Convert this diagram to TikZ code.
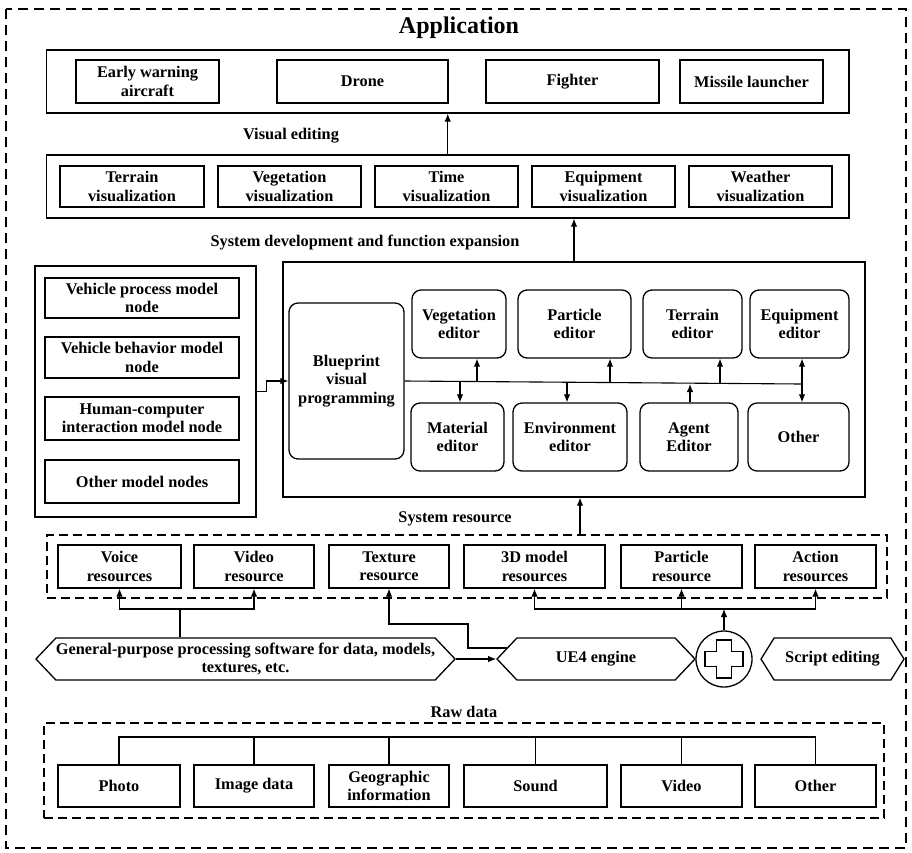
\documentclass[tikz,border=0pt]{standalone}
\usepackage{fontspec}
\setmainfont{Liberation Serif}
\usetikzlibrary{arrows.meta}
\usetikzlibrary{shapes.symbols}
\newcommand{\dgmfont}{\bfseries\fontsize{16.3}{18.3}\selectfont}
\newcommand{\titlefont}{\bfseries\fontsize{24}{26}\selectfont}
\tikzset{>={Latex[length=8pt,width=6.5pt]}}
\tikzset{sz/.style 2 args={minimum width=#1pt, minimum height=#2pt}}
\tikzset{box/.style={draw, line width=1.3pt, inner sep=0pt, align=center, font=\dgmfont}}
\tikzset{rbox/.style={box, rounded corners=9pt}}
\tikzset{dbox/.style={draw, line width=1.1pt, dash pattern=on 9pt off 5pt, inner sep=0pt}}
\tikzset{hexa/.style={box, signal, signal to=east and west}}
\tikzset{lbl/.style={inner sep=0pt, font=\dgmfont}}

\begin{document}
\begin{tikzpicture}[x=1pt,y=-1pt,line width=1.1pt]
  \useasboundingbox (0,0) rectangle (912,852);
  \draw [dash pattern=on 10pt off 6pt] (6,9) rectangle (906,848);

  % application layer
  \node [lbl, font=\titlefont] (apptitle) at (459,28) {Application};
  \node [box, sz={802.5}{63}] (app) at (447.75,81.5) {};
  \node [box, sz={143}{43}] (ew) at (147.5,81.5) {Early warning\\aircraft};
  \node [box, sz={171}{43}] (drone) at (362.5,81.5) {Drone};
  \node [box, sz={173}{43}] (fighter) at (572.5,81.5) {Fighter};
  \node [box, sz={143}{43}] (missile) at (751.5,81.5) {Missile launcher};

  % visualization layer
  \node [lbl] (vislbl) at (291,136) {Visual editing};
  \node [box, sz={802.5}{63}] (vis) at (447.75,186.5) {};
  \node [box, sz={144}{41}] (terrainvis) at (132,186.5) {Terrain\\visualization};
  \node [box, sz={143}{41}] (vegvis) at (289.5,186.5) {Vegetation\\visualization};
  \node [box, sz={143}{41}] (timevis) at (446.5,186.5) {Time\\visualization};
  \node [box, sz={143}{41}] (equipvis) at (603.5,186.5) {Equipment\\visualization};
  \node [box, sz={143}{41}] (weathervis) at (760.5,186.5) {Weather\\visualization};
  \draw [->] (vis.north) -- (app.south);

  % development
  \node [lbl] (devlbl) at (365,243) {System development and function expansion};
  \node [box, sz={582}{235}] (dev) at (574,379.5) {};
  \draw [->] (dev.north) -- (dev.north |- vis.south);

  \node [box, sz={221}{251}] (left) at (145.5,391.5) {};
  \node [box, sz={194}{40}] (vpm) at (142,298) {Vehicle process model\\node};
  \node [box, sz={194}{41}] (vbm) at (142,357.5) {Vehicle behavior model\\node};
  \node [box, sz={194}{43}] (hci) at (142,418.5) {Human-computer\\interaction model node};
  \node [box, sz={194}{43}] (omn) at (142,481.5) {Other model nodes};

  \node [rbox, sz={115}{156}] (bp) at (346.5,381) {Blueprint\\visual\\programming};
  \draw [->] (left.east) -- ++(10,0) |- (bp.west);

  \node [rbox, sz={94}{68}] (vegedit) at (459,324) {Vegetation\\editor};
  \node [rbox, sz={113}{68}] (partedit) at (574.5,324) {Particle\\editor};
  \node [rbox, sz={99}{68}] (terredit) at (692.5,324) {Terrain\\editor};
  \node [rbox, sz={99}{68}] (equipedit) at (799.5,324) {Equipment\\editor};
  \node [rbox, sz={93}{68}] (matedit) at (457.5,437) {Material\\editor};
  \node [rbox, sz={114}{68}] (envedit) at (570,437) {Environment\\editor};
  \node [rbox, sz={98}{68}] (agentedit) at (689,437) {Agent\\Editor};
  \node [rbox, sz={101}{68}] (otheredit) at (798.5,437) {Other};

  \coordinate (busend) at (802,384);
  \draw (bp.east) -- (busend);
  \coordinate (b1) at (477,382);
  \coordinate (b2) at (460,382);
  \coordinate (b3) at (610,383);
  \coordinate (b4) at (567,383);
  \coordinate (b5) at (720,384);
  \coordinate (b6) at (690,384);
  \draw [->] (b1) -- (b1 |- vegedit.south);
  \draw [->] (b2) -- (b2 |- matedit.north);
  \draw [->] (b3) -- (b3 |- partedit.south);
  \draw [->] (b4) -- (b4 |- envedit.north);
  \draw [->] (b5) -- (b5 |- terredit.south);
  \draw [->] (b6 |- agentedit.north) -- (b6);
  \draw [->] (busend) -- (busend |- equipedit.south);
  \draw [->] (busend) -- (busend |- otheredit.north);

  % resources
  \node [lbl] (reslbl) at (455,519) {System resource};
  \node [dbox, sz={840}{63}] (resbox) at (467,566.5) {};
  \coordinate (r2d) at (580,535);
  \draw [->] (r2d) -- (r2d |- dev.south);

  \node [box, sz={123}{43}] (voice) at (119.5,566.5) {Voice\\resources};
  \node [box, sz={120}{43}] (videores) at (254,566.5) {Video\\resource};
  \node [box, sz={120}{43}] (texture) at (389,566.5) {Texture\\resource};
  \node [box, sz={141}{43}] (model3d) at (534.5,566.5) {3D model\\resources};
  \node [box, sz={121}{43}] (particleres) at (681.5,566.5) {Particle\\resource};
  \node [box, sz={121}{43}] (action) at (815.5,566.5) {Action\\resources};

  \node [hexa, sz={417}{42}, signal pointer angle=93] (general) at (245.5,659)
    {General-purpose processing software for data, models,\\textures, etc.};
  \node [hexa, sz={198}{42}, signal pointer angle=93] (ue4) at (596,659) {UE4 engine};
  \node [draw, circle, line width=1.3pt, minimum size=56pt, inner sep=0pt] (plus) at (724,659) {};
  \draw [line width=1.3pt] (plus.center) ++(-7.5,-19) -- ++(15,0) -- ++(0,11.5) -- ++(11.5,0)
    -- ++(0,15) -- ++(-11.5,0) -- ++(0,11.5) -- ++(-15,0) -- ++(0,-11.5) -- ++(-11.5,0)
    -- ++(0,-15) -- ++(11.5,0) -- cycle;
  \node [hexa, sz={143}{42}, signal pointer angle=116] (script) at (832.5,659) {Script editing};

  \coordinate (gbus) at (180,609);
  \draw (gbus |- general.north) -- (gbus);
  \draw [->] (gbus) -| (voice.south);
  \draw [->] (gbus) -| (videores.south);
  \draw [->] (general.east) -- (ue4.west);

  \coordinate (ue4tap) at (507,648);
  \draw [->] (ue4tap) -| (468,624) -| (texture.south);

  \coordinate (rbus) at (724,609);
  \draw [->] (plus.north) -- (rbus);
  \draw [->] (rbus) -| (model3d.south);
  \draw [->] (rbus) -| (action.south);
  \draw [->] (particleres.south |- rbus) -- (particleres.south);

  % raw data
  \node [lbl] (rawlbl) at (464,712) {Raw data};
  \node [dbox, sz={840}{95}] (rawbox) at (464,770.5) {};
  \node [box, sz={122}{42}] (photo) at (119,786) {Photo};
  \node [box, sz={120}{42}] (imgdata) at (254,786) {Image data};
  \node [box, sz={120}{42}] (geo) at (389,786) {Geographic\\information};
  \node [box, sz={143}{42}] (sound) at (535.5,786) {Sound};
  \node [box, sz={121}{42}] (rawvideo) at (681.5,786) {Video};
  \node [box, sz={121}{42}] (rawother) at (815.5,786) {Other};

  \coordinate (rawbus) at (464,737);
  \draw (photo.north) |- (rawbus) -| (rawother.north);
  \foreach \n in {imgdata,geo,sound,rawvideo}
    \draw (\n.north) -- (\n.north |- rawbus);
\end{tikzpicture}
\end{document}
